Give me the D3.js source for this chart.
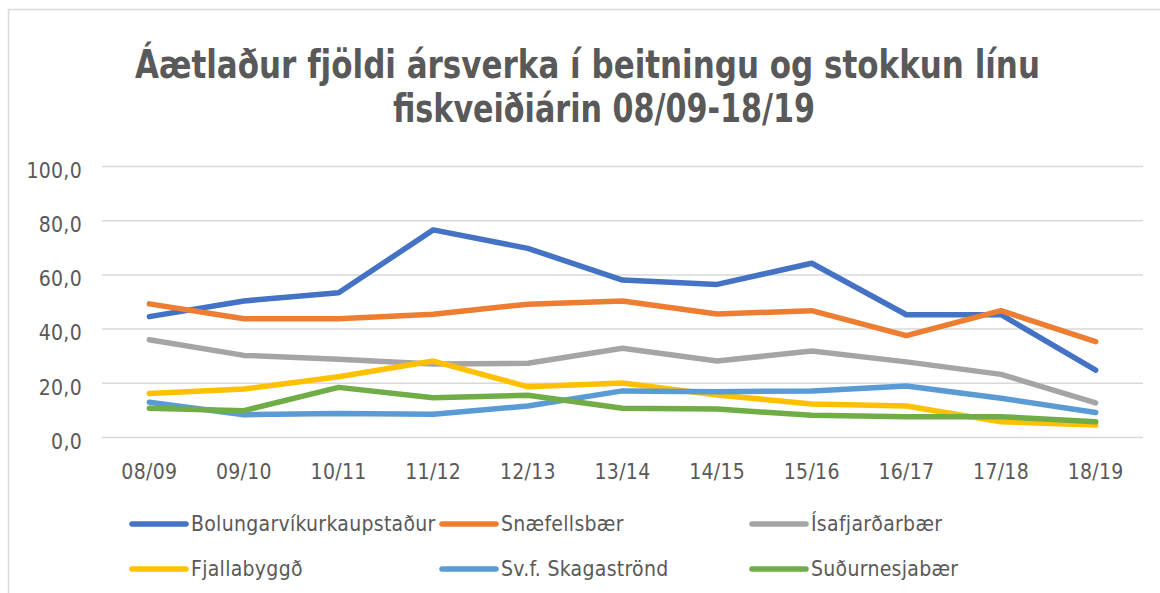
<!DOCTYPE html>
<html lang="is">
<head>
    <meta charset="UTF-8">
    <title>Ársverk í beitningu</title>
    <script src="https://d3js.org/d3.v7.min.js" charset="utf-8"></script>
    <style>
        body { margin: 0; background: white; }
        .grid line { stroke: #d9d9d9; stroke-width: 1.5px; }
        .lbl { font-family: "Liberation Sans Narrow", "DejaVu Sans Condensed", sans-serif; fill: #595959; font-size: 21px; letter-spacing: 0.3px; }
        .title { font-family: "Liberation Sans Narrow", "DejaVu Sans Condensed", sans-serif; fill: #595959; font-size: 39px; font-weight: bold; }
    </style>
</head>
<body>
<svg id="chart" width="1160" height="593"></svg>

<script>
  // ---------- data ----------
  var seasons = ["08/09","09/10","10/11","11/12","12/13","13/14","14/15","15/16","16/17","17/18","18/19"];
  var yTicks = [0, 20, 40, 60, 80, 100];

  var bolungarvik = [44.6, 50.4, 53.4, 76.6, 69.8, 58.1, 56.5, 64.3, 45.3, 45.3, 24.9];
  var snaefellsbaer = [49.3, 43.8, 43.8, 45.5, 49.2, 50.4, 45.6, 46.8, 37.6, 46.8, 35.4];
  var isafjordur = [36.1, 30.3, 28.9, 27.1, 27.4, 32.9, 28.2, 31.9, 27.9, 23.3, 12.8];
  var fjallabyggd = [16.2, 17.9, 22.4, 28.2, 18.7, 20.1, 15.7, 12.4, 11.6, 5.8, 4.6];
  var skagastrond = [13.0, 8.4, 8.9, 8.6, 11.6, 17.2, 16.9, 17.2, 19.0, 14.5, 9.2];
  var sudurnesjabaer = [10.8, 9.9, 18.5, 14.7, 15.6, 10.8, 10.5, 8.2, 7.7, 7.7, 5.8];

  var names = ["Bolungarvíkurkaupstaður","Snæfellsbær","Ísafjarðarbær","Fjallabyggð","Sv.f. Skagaströnd","Suðurnesjabær"];
  var colors = ["#4472c4","#ed7d31","#a5a5a5","#ffc000","#5b9bd5","#70ad47"];

  var series = [bolungarvik, snaefellsbaer, isafjordur, fjallabyggd, skagastrond, sudurnesjabaer];

  //-------------------

  var svg = d3.select("#chart");

  // chart frame
  svg.append("rect")
    .attr("x", 8.5).attr("y", 9.5)
    .attr("width", 1200).attr("height", 620)
    .style("fill", "white").style("stroke", "#d9d9d9").style("stroke-width", "1.5px");

  // title (squeezed to the width of the original narrow font)
  svg.append("text").attr("class", "title")
    .attr("x", 135).attr("y", 78)
    .attr("textLength", 905).attr("lengthAdjust", "spacingAndGlyphs")
    .text("Áætlaður fjöldi ársverka í beitningu og stokkun línu");
  svg.append("text").attr("class", "title")
    .attr("x", 393).attr("y", 122)
    .attr("textLength", 422).attr("lengthAdjust", "spacingAndGlyphs")
    .text("fiskveiðiárin 08/09-18/19");

  var xScale = d3.scaleBand()
    .domain(seasons)
    .range([102, 1143])
    .padding(0);

  var yScale = d3.scaleLinear()
    .domain([0, 100])
    .range([437.5, 166.5]);

  function cx(d) { return xScale(d) + xScale.bandwidth() / 2; }

  // gridlines
  svg.append("g").attr("class", "grid")
    .selectAll("line")
    .data(yTicks)
    .enter().append("line")
    .attr("x1", 102).attr("x2", 1143)
    .attr("y1", function(d) { return yScale(d); })
    .attr("y2", function(d) { return yScale(d); });

  // y axis labels
  var fmt = d3.format(".1f");
  svg.selectAll(".ylbl")
    .data(yTicks)
    .enter().append("text")
    .attr("class", "lbl ylbl")
    .attr("x", 82)
    .attr("y", function(d) { return yScale(d) + 4; })
    .attr("dy", "0.35em")
    .attr("text-anchor", "end")
    .text(function(d) { return fmt(d).replace(".", ","); });

  // x axis labels
  svg.selectAll(".xlbl")
    .data(seasons)
    .enter().append("text")
    .attr("class", "lbl xlbl")
    .attr("x", function(d) { return cx(d); })
    .attr("y", 471.5)
    .attr("dy", "0.35em")
    .attr("text-anchor", "middle")
    .text(function(d) { return d; });

  // lines
  var line = d3.line()
    .x(function(d, i) { return cx(seasons[i]); })
    .y(function(d) { return yScale(d); });

  svg.selectAll(".series")
    .data(series)
    .enter().append("path")
    .attr("class", "series")
    .attr("d", function(d) { return line(d); })
    .style("fill", "none")
    .style("stroke", function(d, i) { return colors[i]; })
    .style("stroke-width", "5.5px")
    .style("stroke-linecap", "round")
    .style("stroke-linejoin", "round");

  //---------- legend ----------
  var legend = svg.selectAll(".legend")
    .data(names)
    .enter().append("g")
    .attr("class", "legend")
    .attr("transform", function(d, i) {
      return "translate(" + (132 + (i % 3) * 310) + "," + (i < 3 ? 524 : 569) + ")";
    });

  legend.append("line")
    .attr("x1", 0).attr("x2", 54)
    .attr("y1", 0).attr("y2", 0)
    .style("stroke", function(d, i) { return colors[i]; })
    .style("stroke-width", "5.5px")
    .style("stroke-linecap", "round");

  legend.append("text")
    .attr("class", "lbl")
    .attr("x", 59)
    .attr("dy", "0.35em")
    .text(function(d) { return d; });
</script>
</body>
</html>
